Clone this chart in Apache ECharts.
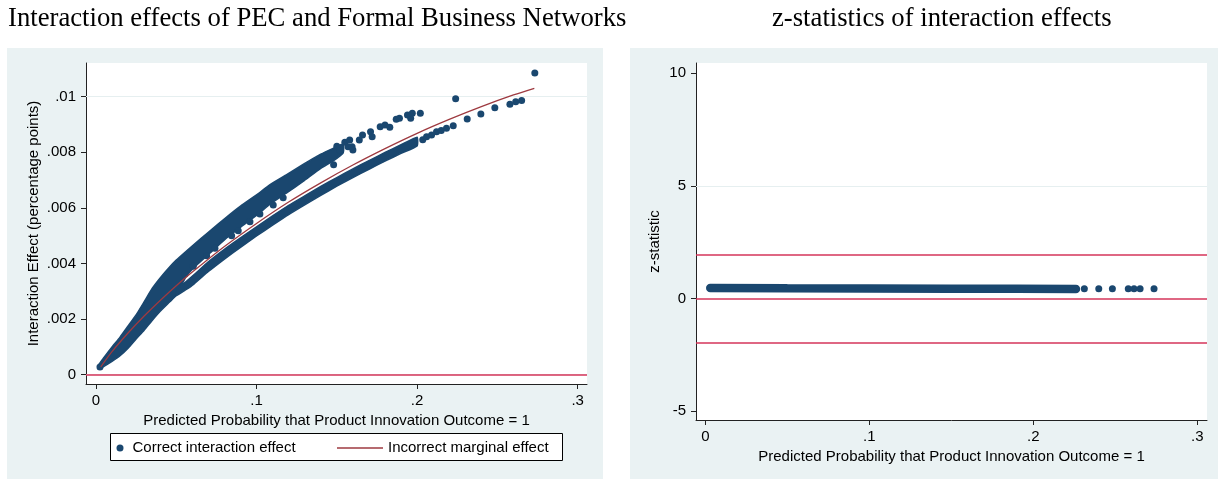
<!DOCTYPE html>
<html>
<head>
<meta charset="utf-8">
<script src="https://cdn.jsdelivr.net/npm/echarts@6/dist/echarts.min.js"></script>
<style>
  html, body { margin: 0; padding: 0; background: #ffffff; }
  #chart { width: 1218px; height: 479px; }
</style>
</head>
<body>
<div id="chart"></div>
<script>
// ---- axis ticks and reference values ----
const leftXTicks = [0, 0.1, 0.2, 0.3];
const leftYTicks = [0, 0.002, 0.004, 0.006, 0.008, 0.01];
const leftGridValues = [0.002, 0.004, 0.006, 0.008, 0.01];
const leftRefValues = [0];
const rightXTicks = [0, 0.1, 0.2, 0.3];
const rightYTicks = [-5, 0, 5, 10];
const rightGridValues = [5];
const rightRefValues = [-1.96, 0, 1.96];

// ---- correct interaction effect: dense part of the cloud, upper branch (x, bottom, top) ----
const upperBranchX      = [0.002, 0.005, 0.010, 0.015, 0.020, 0.025, 0.030, 0.035, 0.040, 0.046, 0.050, 0.056, 0.061, 0.070, 0.081, 0.090, 0.102, 0.108, 0.119, 0.129, 0.140, 0.148, 0.154];
const upperBranchBottom = [0.00020, 0.00030, 0.00048, 0.00068, 0.00095, 0.00128, 0.00160, 0.00195, 0.00228, 0.00262, 0.00285, 0.00352, 0.00385, 0.00432, 0.00490, 0.00530, 0.00582, 0.00612, 0.00655, 0.00695, 0.00742, 0.00770, 0.00798];
const upperBranchTop    = [0.00038, 0.00062, 0.00100, 0.00135, 0.00175, 0.00215, 0.00262, 0.00310, 0.00348, 0.00388, 0.00412, 0.00443, 0.00468, 0.00512, 0.00565, 0.00606, 0.00655, 0.00682, 0.00720, 0.00756, 0.00793, 0.00815, 0.00830];

// ---- correct interaction effect: dense part of the cloud, lower branch (x, bottom, top) ----
const lowerBranchX      = [0.050, 0.056, 0.061, 0.070, 0.080, 0.090, 0.100, 0.110, 0.120, 0.130, 0.140, 0.150, 0.160, 0.170, 0.180, 0.190, 0.200];
const lowerBranchBottom = [0.00285, 0.00306, 0.00326, 0.00371, 0.00416, 0.00458, 0.00499, 0.00538, 0.00576, 0.00611, 0.00645, 0.00678, 0.00709, 0.00739, 0.00768, 0.00796, 0.00823];
const lowerBranchTop    = [0.00305, 0.00334, 0.00359, 0.00406, 0.00451, 0.00492, 0.00532, 0.00571, 0.00609, 0.00643, 0.00677, 0.00709, 0.00740, 0.00770, 0.00799, 0.00827, 0.00854];

// ---- correct interaction effect: individual observations ----
const effectDots = [
  [0.0025, 0.00028],
  [0.0554, 0.00362], [0.0606, 0.00390], [0.0689, 0.00428], [0.0741, 0.00455], [0.0845, 0.00500],
  [0.0886, 0.00518], [0.0959, 0.00550], [0.1021, 0.00578], [0.1104, 0.00610], [0.1166, 0.00636],
  [0.148, 0.00755], [0.150, 0.00822], [0.152, 0.00806], [0.155, 0.00836], [0.157, 0.00820],
  [0.158, 0.00844], [0.1595, 0.00820], [0.160, 0.00808], [0.164, 0.00844], [0.166, 0.00862],
  [0.171, 0.00874], [0.172, 0.00856], [0.177, 0.00892], [0.180, 0.00898], [0.183, 0.00890],
  [0.187, 0.00919], [0.189, 0.00922], [0.194, 0.00934], [0.196, 0.00922], [0.197, 0.00940],
  [0.202, 0.00940], [0.224, 0.00992],
  [0.2035, 0.00845], [0.2059, 0.00856], [0.209, 0.00862], [0.2121, 0.00874], [0.215, 0.00878],
  [0.2183, 0.00886], [0.2225, 0.00895], [0.2312, 0.00920], [0.2397, 0.00938], [0.2484, 0.00960],
  [0.2578, 0.00973], [0.2614, 0.00982], [0.2651, 0.00986], [0.2733, 0.01085]
];

// ---- incorrect marginal effect curve ----
const marginalX = [0.003, 0.01, 0.02, 0.03, 0.04, 0.05, 0.06, 0.08, 0.10, 0.12, 0.14, 0.16, 0.18, 0.20, 0.22, 0.24, 0.26, 0.273];
const marginalY = [0.00028, 0.00083, 0.00150, 0.00211, 0.00267, 0.00320, 0.00369, 0.00461, 0.00544, 0.00621, 0.00690, 0.00754, 0.00813, 0.00868, 0.00918, 0.00964, 0.01006, 0.01030];

// ---- z-statistics: dense run of observations and the isolated ones ----
const zDenseX = [0.003, 0.05, 0.10, 0.15, 0.19, 0.226];
const zDenseY = [0.46, 0.45, 0.44, 0.43, 0.43, 0.42];
const zDotsX = [0.2311, 0.2399, 0.2482, 0.2579, 0.2614, 0.2651, 0.2736];
const zDotsY = [0.43, 0.43, 0.43, 0.43, 0.43, 0.43, 0.43];

// ---- styling ----
const DOT = '#1a476f';
const CURVE = '#9e3a40';
const REF = '#d4345a';
const GRID = '#e6eff0';
const PANEL = '#eaf2f3';
const AXIS = '#222222';
const SANS = '"Liberation Sans", Arial, sans-serif';
const SERIF = '"Liberation Serif", "Times New Roman", serif';

function stataTick(v) {
  if (v === 0) return '0';
  const s = String(v);
  return s.replace(/^(-?)0\./, '$1.');
}

function bandRenderer(xs, lows, highs) {
  return function (params, api) {
    if (params.dataIndex !== 0) return null;
    const top = xs.map((x, i) => api.coord([x, highs[i]]));
    const bottom = xs.map((x, i) => api.coord([x, lows[i]])).reverse();
    return {
      type: 'polygon',
      shape: { points: top.concat(bottom), smooth: 0.15 },
      style: { fill: DOT, stroke: DOT, lineWidth: 1.5, lineJoin: 'round' }
    };
  };
}

function xAxisFor(gridIndex, min, max, ticks) {
  return {
    type: 'value', gridIndex, min, max,
    name: 'Predicted Probability that Product Innovation Outcome = 1',
    nameLocation: 'middle', nameGap: 22,
    nameTextStyle: { fontFamily: SANS, fontSize: 15, color: '#000' },
    axisLine: { show: true, onZero: false, lineStyle: { color: AXIS, width: 1 } },
    axisTick: { show: true, length: 5, customValues: ticks, lineStyle: { color: AXIS, width: 1 } },
    axisLabel: { customValues: ticks, formatter: stataTick, fontFamily: SANS, fontSize: 15, color: '#000', margin: 9 },
    splitLine: { show: false }
  };
}

function yAxisFor(gridIndex, min, max, ticks, name, gap) {
  return {
    type: 'value', gridIndex, min, max,
    name, nameLocation: 'middle', nameGap: gap,
    nameTextStyle: { fontFamily: SANS, fontSize: 15, color: '#000' },
    axisLine: { show: true, onZero: false, lineStyle: { color: AXIS, width: 1 } },
    axisTick: { show: true, length: 5, customValues: ticks, lineStyle: { color: AXIS, width: 1 } },
    axisLabel: { customValues: ticks, formatter: stataTick, fontFamily: SANS, fontSize: 15, color: '#000', margin: 10 },
    splitLine: { show: false }
  };
}

function hLines(values, color, width, z) {
  return {
    silent: true, symbol: 'none', z,
    label: { show: false },
    lineStyle: { color, width, type: 'solid' },
    emphasis: { disabled: true },
    data: values.map(v => ({ yAxis: v }))
  };
}

const chart = echarts.init(document.getElementById('chart'), null, { renderer: 'canvas' });

chart.setOption({
  animation: false,
  backgroundColor: '#ffffff',
  title: [
    { text: 'Interaction effects of PEC and Formal Business Networks', left: 8, top: 5, padding: 0,
      textStyle: { fontFamily: SERIF, fontSize: 26.7, fontWeight: 'normal', color: '#000' } },
    { text: 'z-statistics of interaction effects', left: 772, top: 5, padding: 0,
      textStyle: { fontFamily: SERIF, fontSize: 26.7, fontWeight: 'normal', color: '#000' } }
  ],
  graphic: [
    { type: 'rect', z: -1, silent: true, shape: { x: 7, y: 48, width: 596, height: 431 }, style: { fill: PANEL } },
    { type: 'rect', z: -1, silent: true, shape: { x: 630, y: 48, width: 588, height: 431 }, style: { fill: PANEL } },
    { type: 'rect', z: 1, silent: true, shape: { x: 110.5, y: 433.5, width: 452, height: 27 }, style: { fill: '#ffffff', stroke: '#000', lineWidth: 1 } }
  ],
  legend: [
    { data: [{ name: 'Correct interaction effect', icon: 'circle' }], left: 116.5, top: 440.5, padding: 0,
      itemWidth: 7, itemHeight: 7, selectedMode: false,
      textStyle: { fontFamily: SANS, fontSize: 15, color: '#000', padding: [0, 0, 0, 4] } },
    { data: [{ name: 'Incorrect marginal effect', icon: 'rect' }], left: 337, top: 440.5, padding: 0,
      itemWidth: 46, itemHeight: 1.4, selectedMode: false,
      itemStyle: { color: CURVE },
      textStyle: { fontFamily: SANS, fontSize: 15, color: '#000' } }
  ],
  grid: [
    { left: 86, top: 63, width: 501, height: 321, show: true, backgroundColor: '#ffffff', borderWidth: 0 },
    { left: 696, top: 63, width: 511, height: 357, show: true, backgroundColor: '#ffffff', borderWidth: 0 }
  ],
  xAxis: [
    xAxisFor(0, -0.0062, 0.3058, leftXTicks),
    xAxisFor(1, -0.0057, 0.3059, rightXTicks)
  ],
  yAxis: [
    yAxisFor(0, -0.000335, 0.01121, leftYTicks, 'Interaction Effect (percentage points)', 45),
    yAxisFor(1, -5.4, 10.46, rightYTicks, 'z-statistic', 34)
  ],
  series: [
    // left panel: dense cloud of the correct interaction effect
    {
      type: 'custom', name: 'upper branch', xAxisIndex: 0, yAxisIndex: 0, z: 2, silent: true,
      renderItem: bandRenderer(upperBranchX, upperBranchBottom, upperBranchTop),
      data: upperBranchX.map((x, i) => [x, upperBranchBottom[i], upperBranchTop[i]]),
      markLine: hLines(leftGridValues, GRID, 1, 1)
    },
    {
      type: 'custom', name: 'lower branch', xAxisIndex: 0, yAxisIndex: 0, z: 2, silent: true,
      renderItem: bandRenderer(lowerBranchX, lowerBranchBottom, lowerBranchTop),
      data: lowerBranchX.map((x, i) => [x, lowerBranchBottom[i], lowerBranchTop[i]])
    },
    {
      type: 'scatter', name: 'Correct interaction effect', xAxisIndex: 0, yAxisIndex: 0, z: 3,
      symbol: 'circle', symbolSize: 7, itemStyle: { color: DOT, opacity: 1 },
      data: effectDots
    },
    {
      type: 'line', name: 'Incorrect marginal effect', xAxisIndex: 0, yAxisIndex: 0, z: 4,
      smooth: 0.3, showSymbol: false, symbol: 'none',
      lineStyle: { color: CURVE, width: 1.3 }, itemStyle: { color: CURVE },
      data: marginalX.map((x, i) => [x, marginalY[i]]),
      markLine: hLines(leftRefValues, REF, 1.6, 5)
    },
    // right panel: z-statistics
    {
      type: 'line', name: 'z dense', xAxisIndex: 1, yAxisIndex: 1, z: 3,
      showSymbol: false, symbol: 'none',
      lineStyle: { color: DOT, width: 8.5, cap: 'round' },
      data: zDenseX.map((x, i) => [x, zDenseY[i]]),
      markLine: hLines(rightGridValues, GRID, 1, 1)
    },
    {
      type: 'scatter', name: 'z dots', xAxisIndex: 1, yAxisIndex: 1, z: 3,
      symbol: 'circle', symbolSize: 7, itemStyle: { color: DOT, opacity: 1 },
      data: zDotsX.map((x, i) => [x, zDotsY[i]]),
      markLine: hLines(rightRefValues, REF, 1.6, 5)
    }
  ]
});
</script>
</body>
</html>
